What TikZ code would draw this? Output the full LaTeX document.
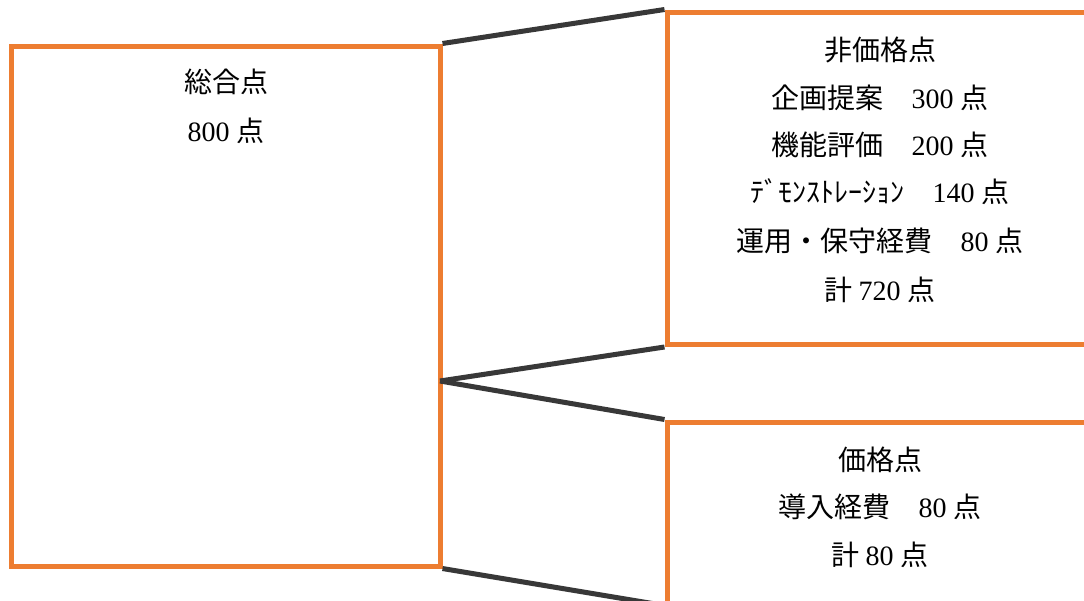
\documentclass[tikz,border=0pt]{standalone}
\usepackage{fontspec}
\setmainfont{Liberation Serif}
\newfontfamily\jp{Noto Sans CJK JP}
\definecolor{boxorange}{HTML}{ED7D31}
\definecolor{linkgray}{HTML}{383838}
\begin{document}
\begin{tikzpicture}[x=1pt,y=-1pt,
  box/.style={draw=boxorange, line width=5pt, inner sep=0pt, fill=none},
  link/.style={draw=linkgray, line width=5pt},
  lbl/.style={font=\fontsize{28}{32}\selectfont, inner sep=0pt, text=black}]
\useasboundingbox (0,0) rectangle (1084,600);
\clip (0,0) rectangle (1084,600);
\node[box, minimum width=429pt, minimum height=520pt] (total) at (225.5,306) {};
\node[box, minimum width=433pt, minimum height=332.5pt] (nonprice) at (883.5,178.25) {};
\node[box, minimum width=433pt, minimum height=181pt] (price) at (883.5,512.5) {};
\coordinate (split) at (440,381);
\draw[link] (total.north east) -- (nonprice.north west);
\draw[link] (split) -- (nonprice.south west);
\draw[link] (split) -- (price.north west);
\draw[link] (total.south east) -- (price.south west);
% left box
\node[lbl] (t1) at (226,82) {\jp 総合点};
\node[lbl] (t2) at (226,131) {800 {\jp 点}};
% non-price box
\node[lbl] (n1) at (880,50) {\jp 非価格点};
\node[lbl] (n2) at (880,98) {{\jp 企画提案　}300 {\jp 点}};
\node[lbl] (n3) at (880,145) {{\jp 機能評価　}200 {\jp 点}};
\node[lbl] (n4) at (880,192) {{\jp ﾃﾞﾓﾝｽﾄﾚｰｼｮﾝ　}140 {\jp 点}};
\node[lbl] (n5) at (880,241) {{\jp 運用・保守経費　}80 {\jp 点}};
\node[lbl] (n6) at (880,290) {{\jp 計 }720 {\jp 点}};
% price box
\node[lbl] (p1) at (880,460) {\jp 価格点};
\node[lbl] (p2) at (880,507) {{\jp 導入経費　}80 {\jp 点}};
\node[lbl] (p3) at (880,555) {{\jp 計 }80 {\jp 点}};
\end{tikzpicture}
\end{document}
